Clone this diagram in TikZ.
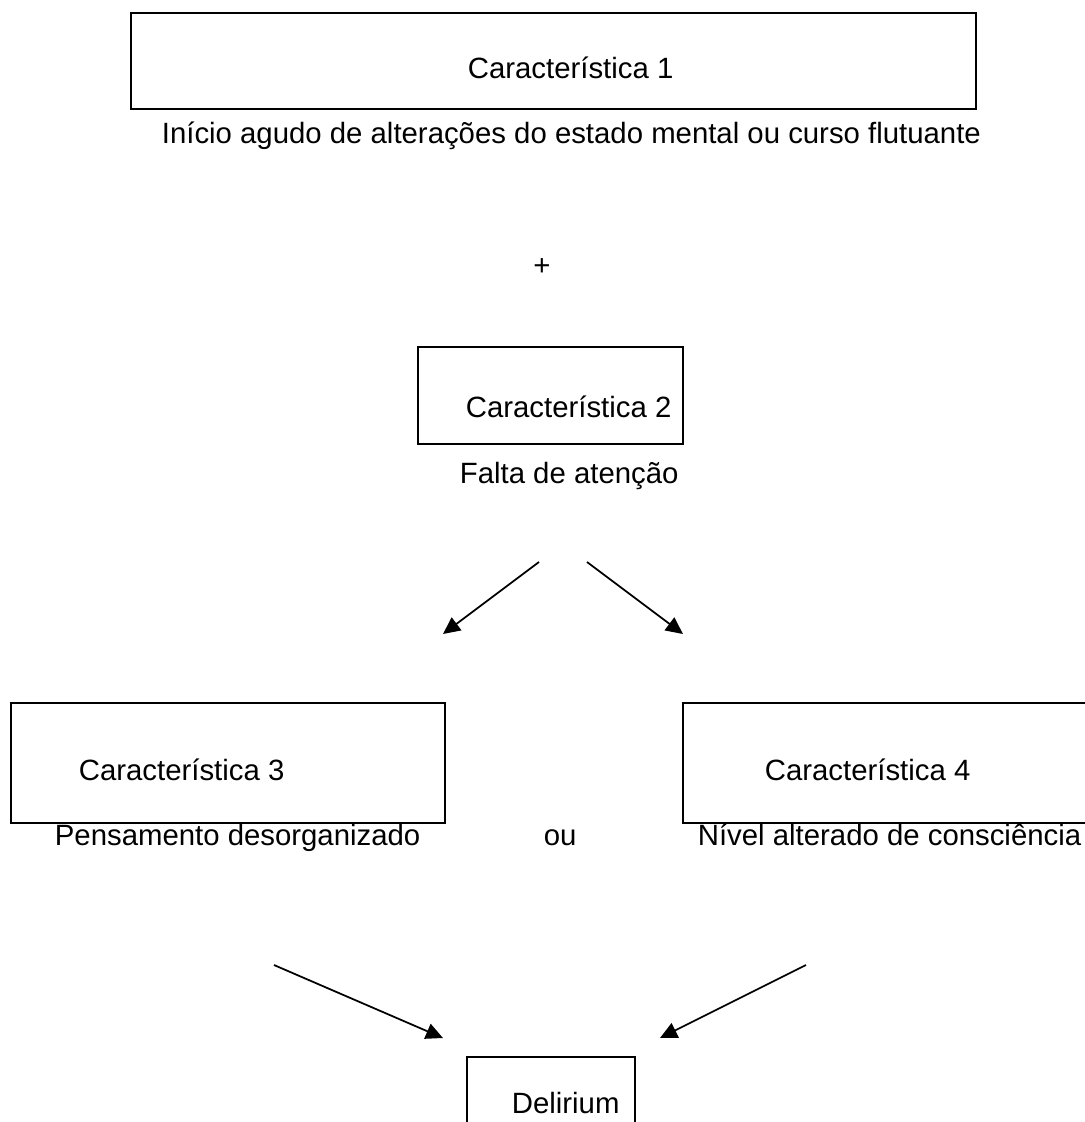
\documentclass[tikz,border=0pt]{standalone}
\usepackage{fontspec}
\setmainfont{Liberation Sans}
\usetikzlibrary{arrows.meta}

\begin{document}
\begin{tikzpicture}[-{Triangle[length=1.7mm,width=1.6mm]}, line width=0.5pt]
   \useasboundingbox (0,0) rectangle (10.85,-11.22);
   \fontsize{8.35}{10}\selectfont
   \tikzstyle{box}=[rectangle, draw=black, line width=0.65pt, inner sep=0pt]
   \tikzstyle{txt}=[anchor=base west, inner sep=0pt]
   % boxes
   \node[box, minimum width=8.45cm, minimum height=0.96cm] (feat1) at (5.535,-0.61) {};
   \node[box, minimum width=2.65cm, minimum height=0.97cm] (feat2) at (5.505,-3.955) {};
   \node[box, minimum width=4.34cm, minimum height=1.2cm] (feat3) at (2.28,-7.63) {};
   \node[box, minimum width=4.3cm, minimum height=1.2cm] (feat4) at (8.98,-7.63) {};
   \node[box, minimum width=1.68cm, minimum height=0.9cm] (delir) at (5.51,-11.02) {};
   % texts
   \node[txt] (name1) at (4.67,-0.78) {Característica 1};
   \node[txt] (desc1) at (1.61,-1.43) {Início agudo de alterações do estado mental ou curso flutuante};
   \node[txt, anchor=base] (plus) at (5.42,-2.75) {+};
   \node[txt] (name2) at (4.65,-4.17) {Característica 2};
   \node[txt] (desc2) at (4.59,-4.83) {Falta de atenção};
   \node[txt] (name3) at (0.78,-7.80) {Característica 3};
   \node[txt] (desc3) at (0.54,-8.45) {Pensamento desorganizado};
   \node[txt] (or) at (5.43,-8.45) {ou};
   \node[txt] (name4) at (7.64,-7.80) {Característica 4};
   \node[txt] (desc4) at (6.97,-8.45) {Nível alterado de consciência};
   \node[txt] (name5) at (5.11,-11.13) {Delirium};
   % arrows
   \coordinate (s1) at (5.39,-5.62);
   \coordinate (t1) at (4.43,-6.34);
   \coordinate (s2) at (5.87,-5.62);
   \coordinate (t2) at (6.83,-6.34);
   \coordinate (s3) at (2.74,-9.65);
   \coordinate (t3) at (4.43,-10.38);
   \coordinate (s4) at (8.06,-9.65);
   \coordinate (t4) at (6.60,-10.38);
   \foreach \a/\b in {s1/t1,s2/t2,s3/t3,s4/t4} {
       \path (\a) edge (\b);
   }
\end{tikzpicture}
\end{document}
